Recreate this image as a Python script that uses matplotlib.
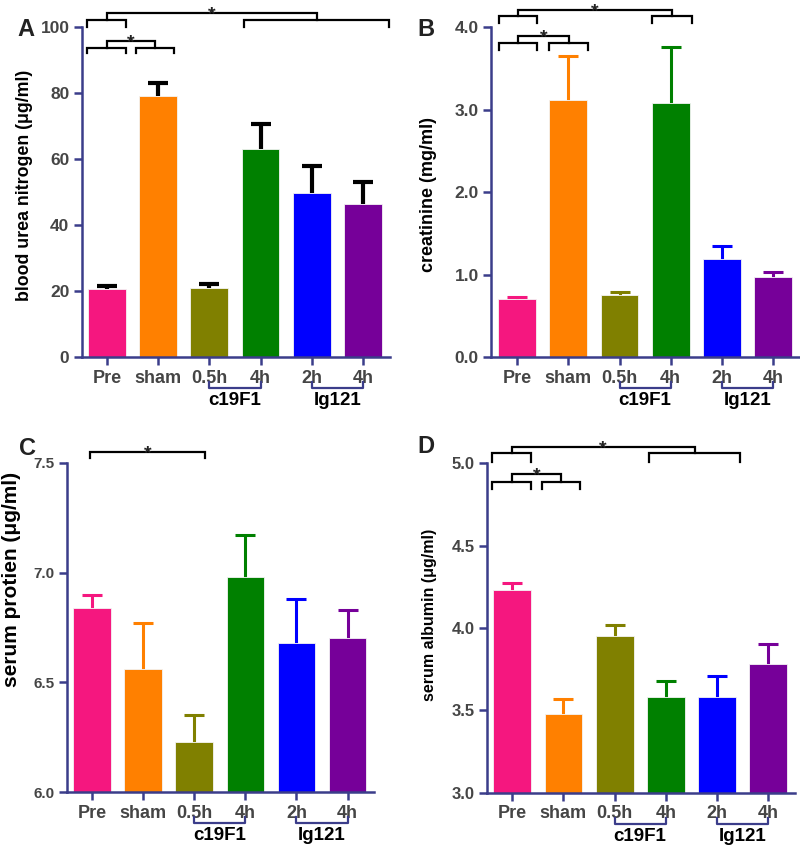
import matplotlib
matplotlib.use('Agg')
import matplotlib.pyplot as plt

plt.rcParams['font.family'] = ['Liberation Sans', 'DejaVu Sans']
plt.rcParams['font.weight'] = 'bold'

groups = ['Pre', 'sham', '0.5h', '4h', '2h', '4h']
colors = ['#f5177f', '#ff8000', '#808000', '#008000', '#0000ff', '#760099']

bun = [20.5, 79.0, 21.0, 63.0, 49.8, 46.5]
bun_err = [1.0, 4.0, 1.0, 7.5, 8.2, 6.5]

creat = [0.70, 3.12, 0.75, 3.08, 1.19, 0.97]
creat_err = [0.03, 0.53, 0.04, 0.68, 0.16, 0.06]

protein = [6.84, 6.56, 6.23, 6.98, 6.68, 6.70]
protein_err = [0.06, 0.21, 0.12, 0.19, 0.20, 0.13]

albumin = [4.23, 3.48, 3.95, 3.58, 3.58, 3.78]
albumin_err = [0.04, 0.09, 0.07, 0.10, 0.13, 0.12]

navy = '#3b3d8a'
tick_gray = '#454545'

fig = plt.figure(figsize=(8, 8.46), dpi=100)


def bracket(ax, x0, x1, ytop, ybot, color='black'):
    ax.plot([x0, x0, x1, x1], [ybot, ytop, ytop, ybot], color=color,
            lw=1.6, clip_on=False, solid_joinstyle='miter')


def star(ax, x, y):
    ax.annotate('*', (x, y), xytext=(0, -4.5), textcoords='offset points',
                ha='center', va='baseline', fontsize=14, color='#222222',
                annotation_clip=False)


def sig_pair(ax, left, right, ysub, yleg, yconn):
    # two sub-brackets joined by a higher connector with a star
    bracket(ax, left[0], left[1], ysub, yleg)
    bracket(ax, right[0], right[1], ysub, yleg)
    m0 = (left[0] + left[1]) / 2
    m1 = (right[0] + right[1]) / 2
    bracket(ax, m0, m1, yconn, ysub)
    star(ax, (m0 + m1) / 2, yconn)


def panel(rect, vals, errs, ylim, ticks, ylabel, letter, err_black,
          ylabel_pos, ylabel_fs, letter_pos, xlim, tick_fs=12.5):
    ax = fig.add_axes(rect)
    x = list(range(len(vals)))
    ax.bar(x, [v - ylim[0] for v in vals], bottom=ylim[0], width=0.74,
           color=colors, edgecolor='#f4f4f4', linewidth=0.6, zorder=2)
    for i in x:
        c = 'black' if err_black else colors[i]
        eb = ax.errorbar(i, vals[i], yerr=[[0], [errs[i]]], fmt='none',
                         ecolor=c, elinewidth=3 if err_black else 2.2,
                         capsize=7, capthick=3 if err_black else 2.2,
                         zorder=1)
        eb[1][0].set_visible(False)
    ax.set_ylim(ylim)
    ax.set_xlim(xlim)
    ax.set_yticks(ticks)
    fmt = '{:.0f}' if ylim[1] > 10 else '{:.1f}'
    ax.set_yticklabels([fmt.format(t) for t in ticks], fontsize=tick_fs,
                       color=tick_gray, fontweight='bold')
    ax.set_xticks(x)
    ax.set_xticklabels(groups, fontsize=13, color=tick_gray,
                       fontweight='bold')
    for s in ['top', 'right']:
        ax.spines[s].set_visible(False)
    for s in ['left', 'bottom']:
        ax.spines[s].set_color(navy)
        ax.spines[s].set_linewidth(1.8)
    ax.tick_params(direction='out', length=6, width=1.8, color=navy,
                   pad=3)
    ax.set_ylabel(ylabel, fontsize=ylabel_fs, fontweight='bold',
                  color='black')
    ax.yaxis.set_label_coords(*ylabel_pos)
    # treatment group brackets under the x axis
    tr = ax.get_xaxis_transform()
    for (a, b), name in [((2, 3), 'c19F1'), ((4, 5), 'Ig121')]:
        ax.plot([a, a, b, b], [-0.077, -0.094, -0.094, -0.077], color=navy,
                lw=1.6, transform=tr, clip_on=False)
        ax.text((a + b) / 2, -0.132, name, transform=tr, ha='center',
                va='center', fontsize=13.5, fontweight='bold', color='black')
    fig.text(letter_pos[0], letter_pos[1], letter, fontsize=17,
             fontweight='bold', color='#222222', ha='center', va='center')
    return ax


axA = panel([0.1025, 0.578, 0.385, 0.390], bun, bun_err, (0, 100),
            [0, 20, 40, 60, 80, 100], 'blood urea nitrogen (\u03bcg/ml)',
            'A', True, (-0.16, 0.52), 12.8, (0.032, 0.965), (-0.49, 5.53))
sig_pair(axA, (-0.39, 0.37), (2.68, 5.51), 102.1, 100.0, 104.2)
sig_pair(axA, (-0.39, 0.37), (0.57, 1.31), 93.6, 92.0, 95.8)

axB = panel([0.614, 0.578, 0.386, 0.390], creat, creat_err, (0, 4.0),
            [0, 1, 2, 3, 4], 'creatinine (mg/ml)',
            'B', False, (-0.175, 0.494), 13, (0.532, 0.965), (-0.51, 5.53))
sig_pair(axB, (-0.36, 0.38), (2.64, 3.42), 4.133, 4.05, 4.206)
sig_pair(axB, (-0.36, 0.38), (0.63, 1.39), 3.806, 3.72, 3.891)

axC = panel([0.084, 0.0638, 0.383, 0.389], protein, protein_err, (6.0, 7.5),
            [6.0, 6.5, 7.0, 7.5], 'serum protien (\u03bcg/ml)',
            'C', False, (-0.15, 0.645), 15, (0.034, 0.47), (-0.49, 5.51),
            tick_fs=11)
bracket(axC, -0.04, 2.2, 7.55, 7.523)
star(axC, 1.08, 7.55)

axD = panel([0.609, 0.0627, 0.385, 0.390], albumin, albumin_err, (3.0, 5.0),
            [3.0, 3.5, 4.0, 4.5, 5.0], 'serum albumin (\u03bcg/ml)',
            'D', False, (-0.162, 0.54), 11.5, (0.532, 0.472), (-0.49, 5.53),
            tick_fs=12)
sig_pair(axD, (-0.39, 0.37), (2.68, 4.45), 5.06, 5.006, 5.097)
sig_pair(axD, (-0.39, 0.37), (0.59, 1.33), 4.885, 4.842, 4.933)

fig.savefig('out.png', dpi=100)
